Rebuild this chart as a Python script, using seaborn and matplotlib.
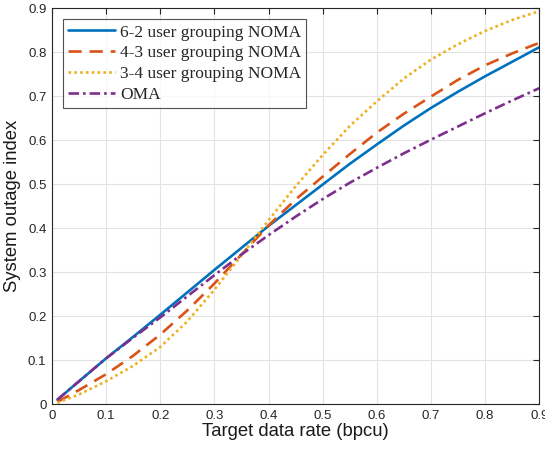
import numpy as np
import pandas as pd
import matplotlib
matplotlib.use("Agg")
import matplotlib.pyplot as plt
import seaborn as sns

rate = [0.01, 0.05, 0.10, 0.15, 0.20, 0.25, 0.30, 0.35, 0.40, 0.45,
        0.50, 0.55, 0.60, 0.65, 0.70, 0.75, 0.80, 0.85, 0.90]
noma_62 = [0.010, 0.052, 0.104, 0.153, 0.203, 0.254, 0.305, 0.355, 0.405, 0.452,
           0.499, 0.546, 0.590, 0.633, 0.673, 0.710, 0.745, 0.778, 0.811]
noma_43 = [0.005, 0.032, 0.068, 0.110, 0.158, 0.213, 0.274, 0.340, 0.406, 0.465,
           0.517, 0.568, 0.617, 0.660, 0.699, 0.737, 0.770, 0.797, 0.821]
noma_34 = [0.003, 0.022, 0.052, 0.087, 0.130, 0.188, 0.260, 0.338, 0.418, 0.495,
           0.566, 0.632, 0.688, 0.740, 0.783, 0.818, 0.848, 0.873, 0.893]
oma = [0.010, 0.052, 0.104, 0.151, 0.197, 0.245, 0.293, 0.340, 0.384, 0.426,
       0.466, 0.503, 0.537, 0.570, 0.601, 0.631, 0.661, 0.690, 0.718]

labels = ["6-2 user grouping NOMA", "4-3 user grouping NOMA",
          "3-4 user grouping NOMA", "OMA"]
colors = ["#0072BD", "#D95319", "#EDB120", "#7E2F8E"]
styles = ["-", (0, (5, 3)), (0, (1, 1.2)), (0, (4, 1.5, 1, 1.5))]

df = pd.DataFrame({"rate": rate * 4,
                   "outage": noma_62 + noma_43 + noma_34 + oma,
                   "scheme": [l for l in labels for _ in rate]})

sns.set_style("white")
fig = plt.figure(figsize=(5.45, 4.5), dpi=100)
ax = fig.add_axes([0.0954, 0.102, 0.894, 0.880])

for lab, col, ls in zip(labels, colors, styles):
    sub = df[df["scheme"] == lab]
    sns.lineplot(data=sub, x="rate", y="outage", ax=ax, color=col,
                 linestyle=ls, linewidth=1.9, label=lab)

ax.set_xlim(0, 0.9)
ax.set_ylim(0, 0.9)
ticks = np.round(np.arange(0, 0.91, 0.1), 1)
ax.set_xticks(ticks)
ax.set_yticks(ticks)
ax.set_xticklabels([f"{t:g}" for t in ticks])
ax.set_yticklabels([f"{t:g}" for t in ticks])
ax.grid(True, color="#e3e3e3", linewidth=0.8)
ax.tick_params(direction="in", length=4, width=0.8, top=True, right=True,
               labelsize=9.5, colors="#262626", pad=4)
for s in ax.spines.values():
    s.set_color("#262626")
    s.set_linewidth(0.8)
for lab in ax.get_xticklabels() + ax.get_yticklabels():
    lab.set_family("Liberation Sans")

ax.set_xlabel("Target data rate (bpcu)", family="Liberation Sans",
              fontsize=13.3, color="#1a1a1a", labelpad=1)
ax.set_ylabel("System outage index", family="Liberation Sans",
              fontsize=13.3, color="#1a1a1a", labelpad=5)

leg = ax.legend(loc="upper left", bbox_to_anchor=(0.022, 0.972),
                prop={"family": "Liberation Serif", "size": 12.5},
                frameon=True, fancybox=False, edgecolor="#262626",
                handlelength=2.7, handletextpad=0.3, borderpad=0.3,
                labelspacing=0.27, borderaxespad=0)
leg.get_frame().set_linewidth(0.8)

fig.savefig("out.png", dpi=100, facecolor="white")
